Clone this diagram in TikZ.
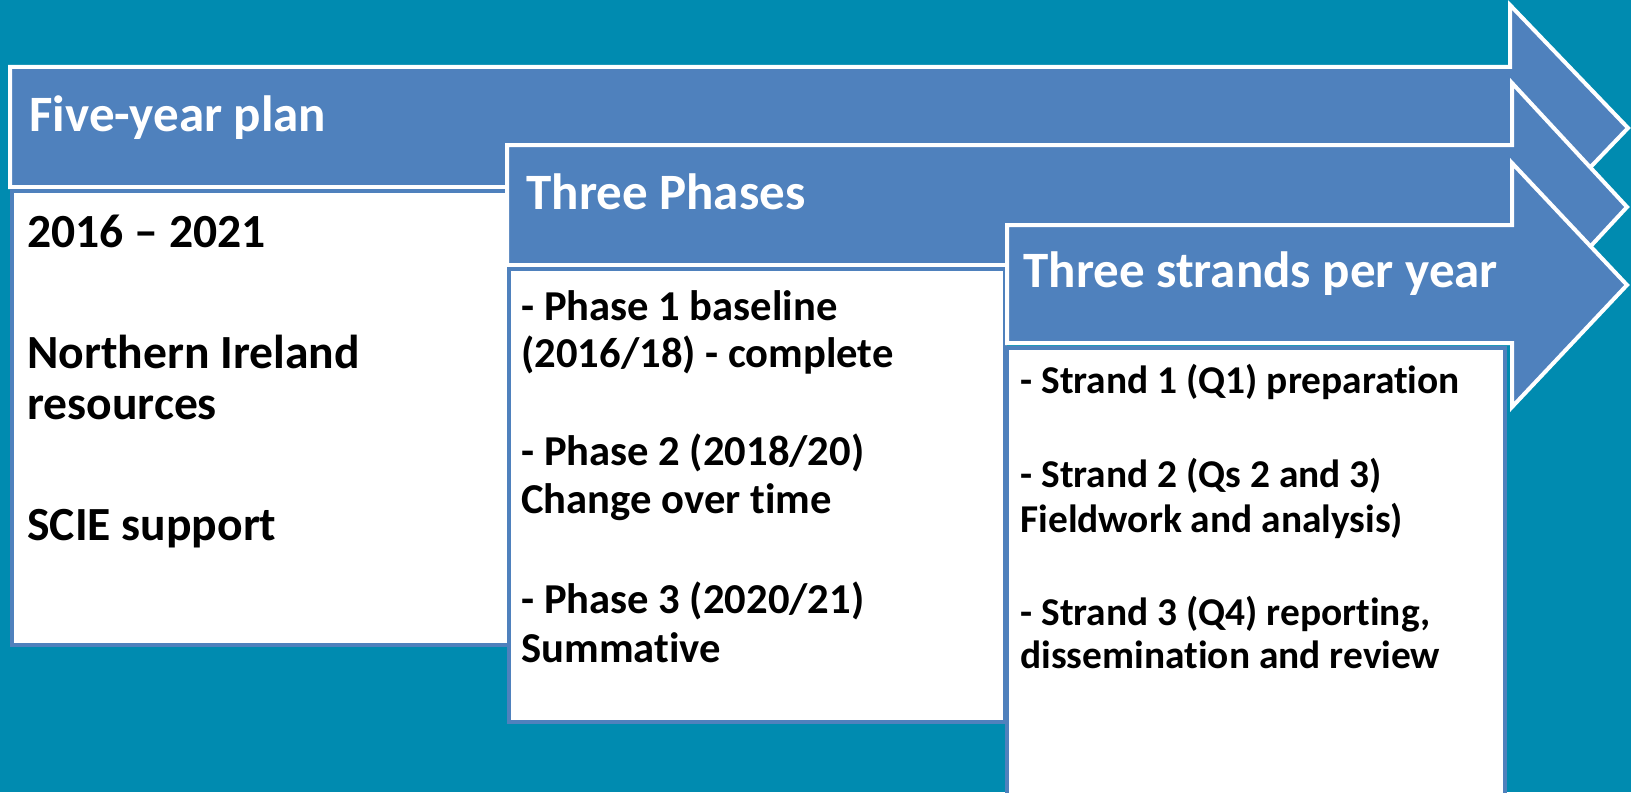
\documentclass[tikz,border=0pt]{standalone}
\usepackage{fontspec}
\setmainfont{Carlito}[Ligatures=NoCommon]
\definecolor{bg}{RGB}{0,139,176}
\definecolor{arrowblue}{HTML}{4F81BD}
\tikzset{
  arrowshape/.style={fill=arrowblue, draw=white, line width=2pt, line join=miter},
  boxshape/.style={fill=white, draw=arrowblue, line width=2pt},
  headtext/.style={anchor=base west, inner sep=0pt, text=white, font=\fontsize{25.5}{30}\selectfont\bfseries},
  bodyA/.style={anchor=base west, inner sep=0pt, text=black, font=\fontsize{23.8}{28}\selectfont\bfseries},
  bodyB/.style={anchor=base west, inner sep=0pt, text=black, font=\fontsize{21.3}{26}\selectfont\bfseries},
  bodyC/.style={anchor=base west, inner sep=0pt, text=black, font=\fontsize{19.7}{24}\selectfont\bfseries},
}
\begin{document}
\begin{tikzpicture}[x=0.5pt,y=-0.5pt]
\fill[bg] (0,0) rectangle (1631,792);
\useasboundingbox (0,0) rectangle (1631,792);
\clip (0,0) rectangle (1631,792);
% arrow 1
\draw[arrowshape] (10,67) -- (1510,67) -- (1510,5) -- (1628,128) -- (1510,251) -- (1510,187) -- (10,187) -- cycle;
\draw[boxshape] (12,191) rectangle (700,645);
\node[headtext] (h1) at (29,132) {Five-year plan};
\node[bodyA] (a1) at (27,247) {2016 – 2021};
\node[bodyA] (a2) at (27,368) {Northern Ireland};
\node[bodyA] (a3) at (27,419) {resources};
\node[bodyA] (a4) at (27,540) {SCIE support};
% arrow 2
\draw[arrowshape] (507,145) -- (1512,145) -- (1512,83) -- (1627,207) -- (1512,331) -- (1512,265) -- (507,265) -- cycle;
\draw[boxshape] (509,269) rectangle (1005,722);
\node[headtext] (h2) at (526,209) {Three Phases};
\node[bodyB] (b1) at (521,320) {- Phase 1 baseline};
\node[bodyB] (b2) at (521,367) {(2016/18) - complete};
\node[bodyB] (b3) at (521,465) {- Phase 2 (2018/20)};
\node[bodyB] (b4) at (521,513) {Change over time};
\node[bodyB] (b5) at (521,613) {- Phase 3 (2020/21)};
\node[bodyB] (b6) at (521,662) {Summative};
% arrow 3
\draw[arrowshape] (1007,225) -- (1512,225) -- (1512,163) -- (1627,285) -- (1512,407) -- (1512,343) -- (1007,343) -- cycle;
\draw[boxshape] (1007,348) rectangle (1505,820);
\node[headtext] (h3) at (1023,287) {Three strands per year};
\node[bodyC] (c1) at (1020,393) {- Strand 1 (Q1) preparation};
\node[bodyC] (c2) at (1020,487) {- Strand 2 (Qs 2 and 3)};
\node[bodyC] (c3) at (1020,532) {Fieldwork and analysis)};
\node[bodyC] (c4) at (1020,625) {- Strand 3 (Q4) reporting,};
\node[bodyC] (c5) at (1020,668) {dissemination and review};
\end{tikzpicture}
\end{document}
